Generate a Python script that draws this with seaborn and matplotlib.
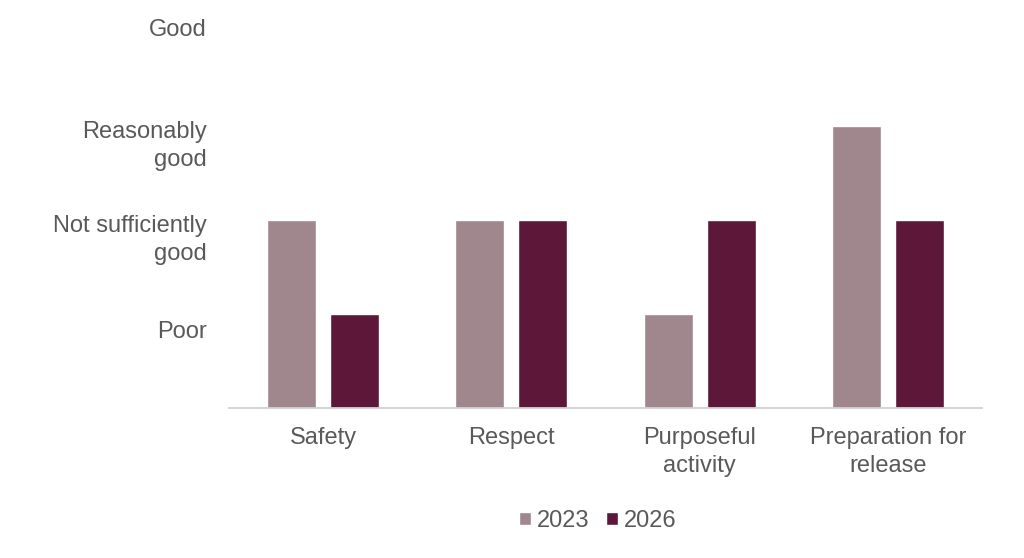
import matplotlib
matplotlib.use("Agg")
import matplotlib.pyplot as plt
import seaborn as sns
import pandas as pd

categories = ["Safety", "Respect", "Purposeful\nactivity", "Preparation for\nrelease"]
years = ["2023", "2026"]
scores_2023 = [2, 2, 1, 3]
scores_2026 = [1, 2, 2, 2]
level_labels = ["Poor", "Not sufficiently\ngood", "Reasonably\ngood", "Good"]
level_ticks = [0.83, 1.85, 2.85, 4.05]

colors = {"2023": "#A0868D", "2026": "#5C1739"}
grey = "#595959"
fs = 17

df = pd.DataFrame({
    "category": categories * 2,
    "year": [years[0]] * 4 + [years[1]] * 4,
    "score": scores_2023 + scores_2026,
})

sns.set_theme(style="white")
plt.rcParams["font.family"] = ["Liberation Sans", "DejaVu Sans"]

fig = plt.figure(figsize=(10.24, 5.58), dpi=100)
ax = fig.add_axes([229 / 1024, 1 - 408 / 558, 753 / 1024, 385.4 / 558])

sns.barplot(data=df, x="category", y="score", hue="year", palette=colors,
            width=0.669, gap=0.222, saturation=1, ax=ax, legend=True)

ax.set_xlim(-0.5, 3.5)
ax.set_ylim(0, 4.1)
ax.set_yticks(level_ticks)
ax.set_yticklabels(level_labels, fontsize=fs, color=grey, ha="right",
                   multialignment="right", linespacing=1.35)
ax.set_xticks(range(len(categories)))
ax.set_xticklabels(categories, fontsize=fs, color=grey, linespacing=1.35)
ax.tick_params(axis="y", length=0, pad=16)
ax.tick_params(axis="x", length=0, pad=14)
ax.set_xlabel("")
ax.set_ylabel("")
for side in ["top", "right", "left"]:
    ax.spines[side].set_visible(False)
ax.spines["bottom"].set_color("#D0D0D0")
ax.spines["bottom"].set_linewidth(1.3)

handles, labels = ax.get_legend_handles_labels()
ax.legend(handles, labels, loc="center", bbox_to_anchor=(598 / 1024, 1 - 521 / 558),
          bbox_transform=fig.transFigure, ncol=2, frameon=False, fontsize=fs,
          labelcolor=grey, handlelength=0.5, handleheight=0.5, handletextpad=0.25,
          columnspacing=0.7)

fig.savefig("out.png", dpi=100)
